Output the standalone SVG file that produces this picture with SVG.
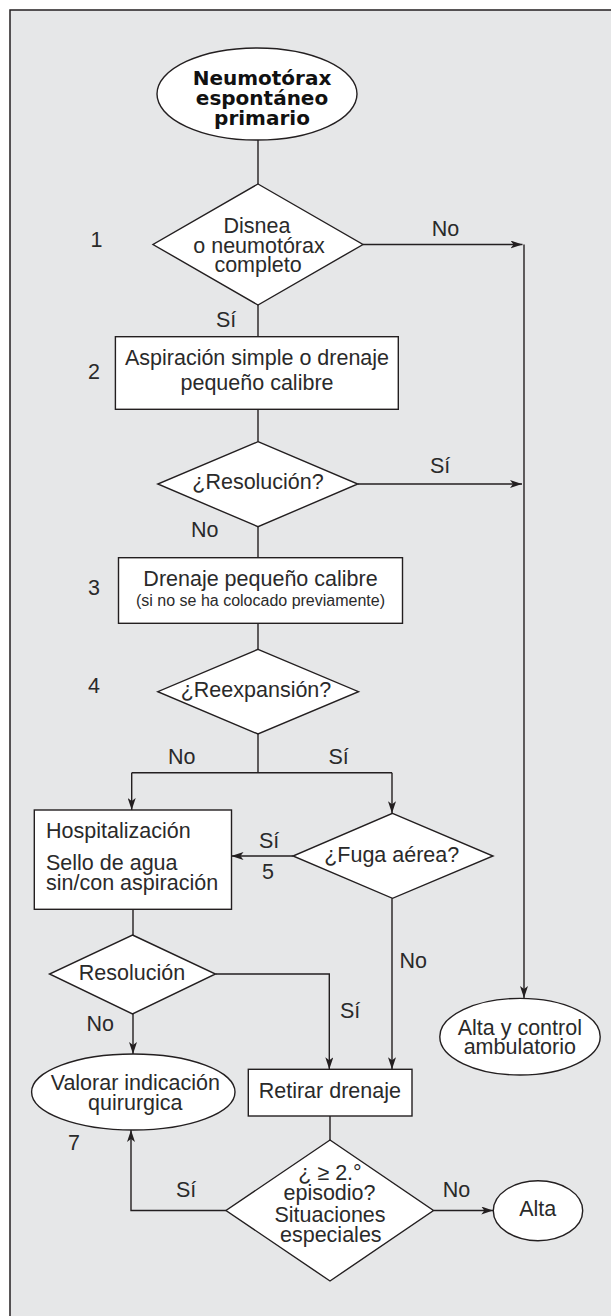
<svg xmlns="http://www.w3.org/2000/svg" width="611" height="1316" viewBox="0 0 611 1316">
<defs>
<marker id="arr" viewBox="0 0 12 8" refX="12" refY="4" markerWidth="12" markerHeight="8" markerUnits="userSpaceOnUse" orient="auto">
<path d="M0,0 L12,4 L0,8 L3,4 z" fill="#231f20"/>
</marker>
<style>
.n{fill:#fff;stroke:#231f20;stroke-width:1.4}
.c{fill:none;stroke:#231f20;stroke-width:1.4}
.a{marker-end:url(#arr)}
text{font-family:"Liberation Sans",Arial,sans-serif;font-size:21.5px;fill:#2a2a2a}
.m{text-anchor:middle}
.t{font-family:"DejaVu Sans",sans-serif;font-weight:bold;font-size:20px;fill:#111}
.s{font-size:16px}
</style>
</defs>
<rect x="10" y="10" width="640" height="1340" fill="#e6e7e8" stroke="#231f20" stroke-width="1.5"/>

<g id="connectors">
<path class="c" d="M258,140 V184"/>
<path class="c a" d="M363,244.5 H522.5"/>
<path class="c a" d="M524,244.5 V998"/>
<path class="c" d="M258,305 V336.7"/>
<path class="c" d="M258,409.3 V441.7"/>
<path class="c a" d="M357.8,484 H522"/>
<path class="c" d="M258,526.7 V557.7"/>
<path class="c" d="M258,623.3 V649.3"/>
<path class="c" d="M258,734 V772.7"/>
<path class="c" d="M131.7,772.7 H392"/>
<path class="c a" d="M131.7,772.7 V810"/>
<path class="c a" d="M392,772.7 V813.3"/>
<path class="c a" d="M293,856 H231.5"/>
<path class="c" d="M133,909.3 V935"/>
<path class="c a" d="M133,1014 V1054"/>
<path class="c a" d="M215.5,974 H329.3 V1069.3"/>
<path class="c a" d="M392,898.3 V1069.3"/>
<path class="c" d="M330,1116 V1140"/>
<path class="c a" d="M226,1210.5 H131 V1130"/>
<path class="c a" d="M433.5,1210.5 H493.3"/>
</g>

<g id="start">
<ellipse class="n" cx="257" cy="94" rx="100" ry="46"/>
<text class="t m" x="262" y="85">Neumotórax</text>
<text class="t m" x="262" y="105">espontáneo</text>
<text class="t m" x="262" y="125">primario</text>
</g>

<g id="d1">
<polygon class="n" points="258,184 363,244.5 258,305 153,244.5"/>
<text class="m" x="257" y="233.3">Disnea</text>
<text class="m" x="259" y="253">o neumotórax</text>
<text class="m" x="258" y="272">completo</text>
</g>

<g id="box2">
<rect class="n" x="115.4" y="336.7" width="282.9" height="72.6"/>
<text class="m" x="257" y="365">Aspiración simple o drenaje</text>
<text class="m" x="257" y="390">pequeño calibre</text>
</g>

<g id="d2">
<polygon class="n" points="258,441.7 357.8,484 258,526.7 157.8,484"/>
<text class="m" x="258" y="489.3">¿Resolución?</text>
</g>

<g id="box3">
<rect class="n" x="118.5" y="557.7" width="284" height="65.6"/>
<text class="m" x="260.5" y="586">Drenaje pequeño calibre</text>
<text class="m s" x="260.5" y="606">(si no se ha colocado previamente)</text>
</g>

<g id="d4">
<polygon class="n" points="258,649.3 358.5,691.7 258,734 157.8,691.7"/>
<text class="m" x="256" y="696.7">¿Reexpansión?</text>
</g>

<g id="hosp">
<rect class="n" x="34.3" y="810" width="197.2" height="99.3"/>
<text x="46" y="838.3">Hospitalización</text>
<text x="46" y="870">Sello de agua</text>
<text x="46" y="890">sin/con aspiración</text>
</g>

<g id="d5">
<polygon class="n" points="392.5,813.3 493,856 392.5,898.3 293,856"/>
<text class="m" x="391.7" y="861.7">¿Fuga aérea?</text>
</g>

<g id="d6">
<polygon class="n" points="132.5,935 215.5,974 132.5,1014 49.5,974"/>
<text class="m" x="132" y="980">Resolución</text>
</g>

<g id="altacontrol">
<ellipse class="n" cx="520" cy="1036.7" rx="80.2" ry="38.3"/>
<text class="m" x="519.8" y="1035">Alta y control</text>
<text class="m" x="519.8" y="1054">ambulatorio</text>
</g>

<g id="retirar">
<rect class="n" x="248.3" y="1069.3" width="163.7" height="46.7"/>
<text class="m" x="329.8" y="1098.3">Retirar drenaje</text>
</g>

<g id="valorar">
<ellipse class="n" cx="133.3" cy="1092" rx="101.7" ry="38"/>
<text class="m" x="135.3" y="1090">Valorar indicación</text>
<text class="m" x="135.3" y="1110">quirurgica</text>
</g>

<g id="d7">
<polygon class="n" points="330,1140 433.5,1210.5 330,1281 226,1210.5"/>
<text class="m" x="330" y="1180">¿ ≥ 2.°</text>
<text class="m" x="329.5" y="1200">episodio?</text>
<text class="m" x="330" y="1221.7">Situaciones</text>
<text class="m" x="330.8" y="1241.7">especiales</text>
</g>

<g id="alta">
<ellipse class="n" cx="538" cy="1210.7" rx="44.7" ry="30"/>
<text class="m" x="537.7" y="1216">Alta</text>
</g>

<g id="labels">
<text x="90.4" y="246.7">1</text>
<text x="88" y="379.3">2</text>
<text x="88" y="595">3</text>
<text x="88" y="692.7">4</text>
<text x="262" y="879.3">5</text>
<text x="68" y="1150">7</text>
<text x="431.7" y="236">No</text>
<text x="216" y="326.7">Sí</text>
<text x="430" y="472.7">Sí</text>
<text x="191" y="537.3">No</text>
<text x="168" y="764.3">No</text>
<text x="328.5" y="764.3">Sí</text>
<text x="259" y="847.7">Sí</text>
<text x="399.5" y="968.3">No</text>
<text x="340" y="1017.7">Sí</text>
<text x="86.5" y="1031">No</text>
<text x="176" y="1196.7">Sí</text>
<text x="442.7" y="1196.7">No</text>
</g>
</svg>
